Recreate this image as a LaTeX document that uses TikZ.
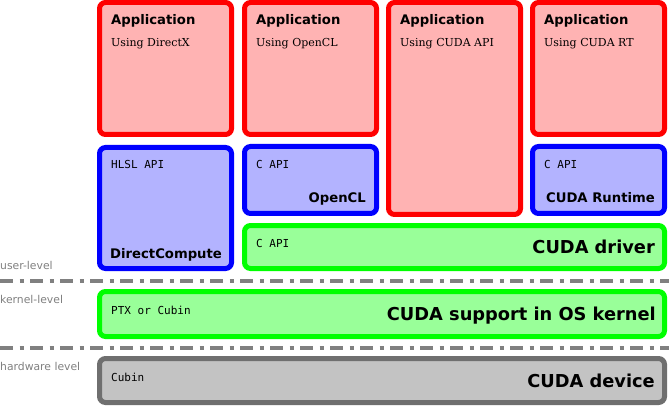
\documentclass[tikz,border=0pt]{standalone}
\usepackage{fontspec}
\setmainfont{DejaVu Sans}
\newfontfamily\serifF{DejaVu Serif}
\newfontfamily\monoF{DejaVu Sans Mono}
\usetikzlibrary{calc}
\definecolor{redS}{HTML}{FF0000}
\definecolor{redF}{HTML}{FFB3B3}
\definecolor{bluS}{HTML}{0000FF}
\definecolor{bluF}{HTML}{B3B3FF}
\definecolor{grnS}{HTML}{00FF00}
\definecolor{grnF}{HTML}{99FF99}
\definecolor{devS}{HTML}{6F6F6F}
\definecolor{devF}{HTML}{C3C3C3}
\definecolor{lvl}{HTML}{808080}
\tikzset{
  boxbase/.style={rectangle, line width=5pt, rounded corners=6pt, inner sep=0pt, outer sep=0pt, anchor=north west},
  redbox/.style={boxbase, draw=redS, fill=redF},
  blubox/.style={boxbase, draw=bluS, fill=bluF},
  grnbox/.style={boxbase, draw=grnS, fill=grnF},
  devbox/.style={boxbase, draw=devS, fill=devF},
  ttl/.style={inner sep=0pt, font=\fontsize{13.2}{15}\selectfont\bfseries},
  big/.style={inner sep=0pt, font=\fontsize{17.8}{20}\selectfont\bfseries, anchor=base east},
  sub/.style={inner sep=0pt, font=\serifF\fontsize{11}{13}\selectfont, anchor=base west},
  api/.style={inner sep=0pt, font=\monoF\fontsize{11}{12}\selectfont, anchor=base west},
  lvltxt/.style={inner sep=0pt, font=\fontsize{10.8}{12}\selectfont, text=lvl, anchor=base west},
  sepline/.style={draw=lvl, line width=3.5pt, dash pattern=on 13pt off 6.5pt on 4pt off 6.5pt}
}
\begin{document}
\begin{tikzpicture}[x=1pt, y=-1pt]
\useasboundingbox (0,0) rectangle (669,406);
% boxes
\node[redbox, minimum width=132pt, minimum height=132pt] (app1) at (99.5,2.5) {};
\node[redbox, minimum width=132pt, minimum height=132pt] (app2) at (244.5,2.5) {};
\node[redbox, minimum width=132pt, minimum height=212pt] (app3) at (388.5,2.5) {};
\node[redbox, minimum width=132pt, minimum height=132pt] (app4) at (532.5,2.5) {};
\node[blubox, minimum width=132pt, minimum height=121pt] (dc) at (99.5,147.5) {};
\node[blubox, minimum width=132pt, minimum height=67pt] (ocl) at (244.5,146.5) {};
\node[blubox, minimum width=132pt, minimum height=67pt] (rt) at (532.5,146.5) {};
\node[grnbox, minimum width=420pt, minimum height=43pt] (drv) at (244.5,225.5) {};
\node[grnbox, minimum width=565pt, minimum height=45pt] (kern) at (99.5,291.5) {};
\node[devbox, minimum width=565pt, minimum height=44pt] (dev) at (99.5,358.5) {};
% application texts
\foreach \b/\t in {app1/Using DirectX, app2/Using OpenCL, app3/Using CUDA API, app4/Using CUDA RT}{
  \node[ttl, anchor=base west] (\b t) at ($(\b.north west)+(11.5,22.5)$) {Application};
  \node[sub] (\b s) at ($(\b.north west)+(11.5,44.5)$) {\t};
}
% API texts
\node[api] (dca) at ($(dc.north west)+(11.5,21.5)$) {HLSL API};
\node[api] (ocla) at ($(ocl.north west)+(11.5,22.5)$) {C API};
\node[api] (rta) at ($(rt.north west)+(11.5,22.5)$) {C API};
\node[api] (drva) at ($(drv.north west)+(11.5,21.5)$) {C API};
\node[api] (kerna) at ($(kern.north west)+(11.5,22.5)$) {PTX or Cubin};
\node[api] (deva) at ($(dev.north west)+(11.5,22.5)$) {Cubin};
% names
\node[ttl, anchor=base west] (dcn) at ($(dc.north west)+(10.5,110.5)$) {DirectCompute};
\node[ttl, anchor=base east] (ocln) at ($(ocl.north east)+(-10.5,56.5)$) {OpenCL};
\node[ttl, anchor=base east] (rtn) at ($(rt.north east)+(-9.5,56.5)$) {CUDA Runtime};
\node[big] (drvn) at ($(drv.north east)+(-9.5,27.5)$) {CUDA driver};
\node[big] (kernn) at ($(kern.north east)+(-8.5,28.5)$) {CUDA support in OS kernel};
\node[big] (devn) at ($(dev.north east)+(-9.5,28.5)$) {CUDA device};
% separators
\coordinate (s1a) at (0,281);
\coordinate (s1b) at (669,281);
\coordinate (s2a) at (0,348);
\coordinate (s2b) at (669,348);
\draw[sepline] (s1a) -- (s1b);
\draw[sepline] (s2a) -- (s2b);
% level labels
\node[lvltxt] (ul) at (0,269) {user-level};
\node[lvltxt] (kl) at (0,303) {kernel-level};
\node[lvltxt] (hl) at (0,370) {hardware level};
\end{tikzpicture}
\end{document}
